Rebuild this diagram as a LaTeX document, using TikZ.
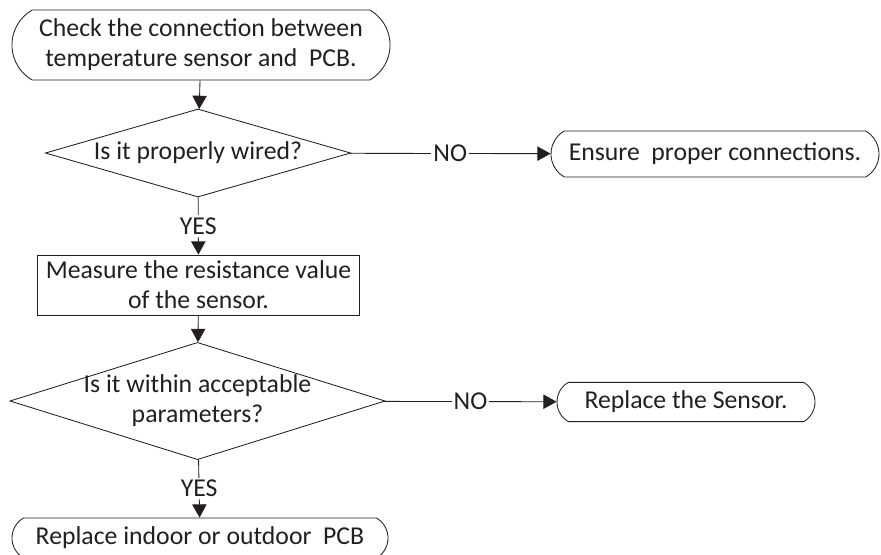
\documentclass[tikz,border=0pt]{standalone}
\usepackage{xcolor}
\usepackage{fontspec}
\setmainfont{Carlito}
\usetikzlibrary{shapes.geometric,shapes.misc,arrows.meta}
\definecolor{ink}{HTML}{231F20}

\begin{document}
\begin{tikzpicture}[x=0.025cm, y=-0.025cm, line width=0.6pt, ink,
    font=\fontsize{18.3pt}{21.5pt}\selectfont,
    term/.style={draw, rounded rectangle, rounded rectangle arc length=120,
      inner sep=0pt, align=center},
    decide/.style={draw, diamond, aspect=3.2, inner sep=0pt, align=center},
    proc/.style={draw, rectangle, inner sep=0pt, align=center},
    flow/.style={-{Triangle[length=0.33cm, width=0.36cm]}},
    tag/.style={fill=white, inner sep=1.5pt}]
    \clip (0,0) rectangle (881,554);
    % boxes
    \node[term, minimum width=9.45cm, minimum height=1.75cm] (check) at (201,45)
      {Check the connection between\\ temperature sensor and\ \ PCB.};
    \node[decide, minimum width=7.63cm, minimum height=2.2cm] (wired) at (198,153)
      {Is it properly wired?};
    \node[term, minimum width=8.2cm, minimum height=1.15cm] (ensure) at (715,154)
      {Ensure\ \ proper connections.};
    \node[proc, minimum width=8.03cm, minimum height=1.5cm] (measure) at (198.5,285)
      {Measure the resistance value\\ of the sensor.};
    \node[decide, inner ysep=-12pt, minimum width=9.38cm, minimum height=2.93cm] (range) at (197.5,401)
      {Is it within acceptable\\ parameters?};
    \node[term, minimum width=6.45cm, minimum height=0.98cm] (sensor) at (686,402)
      {Replace the Sensor.};
    \node[term, minimum width=9.4cm, minimum height=1cm] (pcb) at (200,538)
      {Replace indoor or outdoor\ \ PCB};
    % connectors
    \draw[flow] (check) -- (wired);
    \draw[flow] (wired) -- node[tag] {NO} (ensure);
    \draw[flow] (wired) -- node[tag] {YES} (measure);
    \draw[flow] (measure) -- (range);
    \draw[flow] (range) -- node[tag] {NO} (sensor);
    \draw[flow] (range) -- node[tag] {YES} (pcb);
  \end{tikzpicture}
\end{document}
